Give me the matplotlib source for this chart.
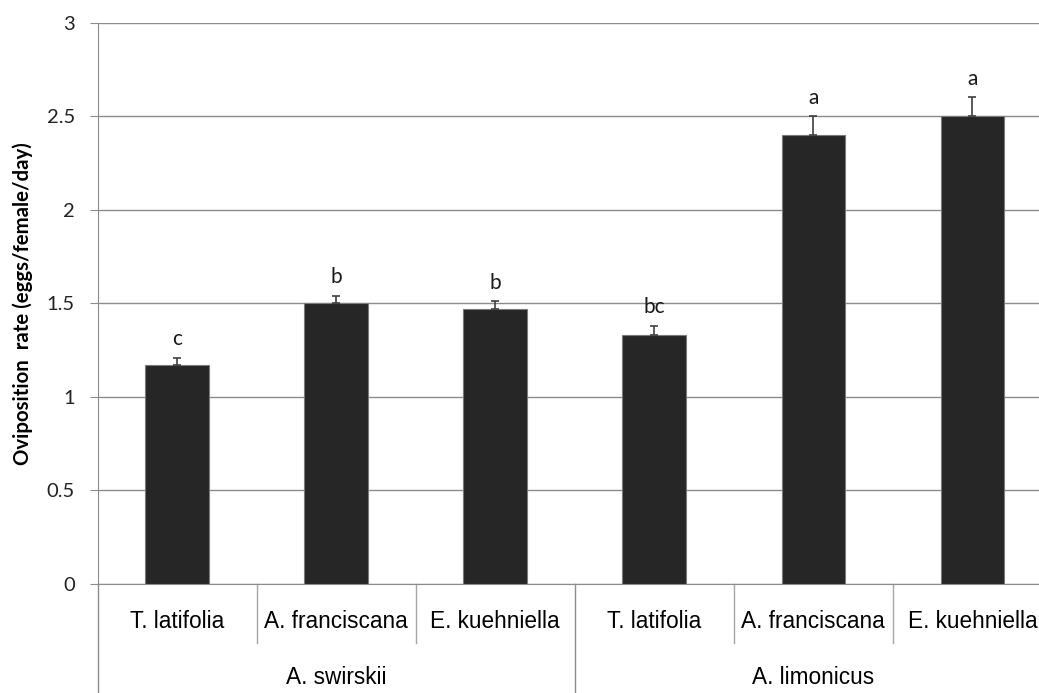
import matplotlib
matplotlib.use("Agg")
import matplotlib.pyplot as plt
import matplotlib.transforms as mtransforms

# Oviposition data: predator species x prey/food source
groups = ["A. swirskii", "A. limonicus"]
foods = ["T. latifolia", "A. franciscana", "E. kuehniella"]
rates = [1.17, 1.50, 1.47, 1.33, 2.40, 2.50]
errors = [0.04, 0.04, 0.04, 0.05, 0.10, 0.10]
letters = ["c", "b", "b", "bc", "a", "a"]
yticks = [0, 0.5, 1, 1.5, 2, 2.5, 3]
ytick_labels = ["0", "0.5", "1", "1.5", "2", "2.5", "3"]

W, H, DPI = 1039, 693, 100
fig = plt.figure(figsize=(W / DPI, H / DPI), dpi=DPI)
left_px, right_px, top_px, bottom_px = 97.5, 1052.0, 22.5, 584.0
ax = fig.add_axes([left_px / W, 1 - bottom_px / H,
                   (right_px - left_px) / W, (bottom_px - top_px) / H])

n_food = len(foods)
x = list(range(len(rates)))
grid_col = "#8c8c8c"
num_font = "Lato"
cat_font = "Liberation Sans"

ax.set_axisbelow(True)
ax.yaxis.grid(True, color=grid_col, linewidth=1.0)
ax.bar(x, rates, width=0.4, color="#262626", edgecolor="#7a7a7a", linewidth=0.8, zorder=3)
ax.errorbar(x, rates, yerr=[[0] * len(errors), errors], fmt="none",
            ecolor="#404040", elinewidth=1.2, capsize=2.6, capthick=1.2, zorder=4)

for xi, r, e, lab in zip(x, rates, errors, letters):
    ax.annotate(lab, xy=(xi, r + e), xytext=(0, 9), textcoords="offset points",
                ha="center", va="baseline", fontsize=15, family=num_font,
                color="#1a1a1a")

ax.set_xlim(-0.5, len(rates) - 0.5)
ax.set_ylim(0, 3)
ax.set_yticks(yticks)
ax.set_yticklabels(ytick_labels, fontsize=14.5, family=num_font)
ax.tick_params(axis="y", length=5.8, color=grid_col, pad=10.5, labelcolor="#222222")
ax.set_xticks([])
for s in ["top", "right"]:
    ax.spines[s].set_visible(False)
ax.spines["left"].set_color(grid_col)
ax.spines["bottom"].set_color(grid_col)

ax.set_ylabel("Oviposition  rate (eggs/female/day)", fontsize=14.7,
              fontweight="bold", family=num_font, labelpad=10)

# Two-level category axis
trans = mtransforms.blended_transform_factory(ax.transData, ax.transAxes)
span = bottom_px - top_px
cat_y = -(621.7 - bottom_px) / span
grp_y = -(678.0 - bottom_px) / span
sep_low = -(643.0 - bottom_px) / span
grp_low = -(700.0 - bottom_px) / span

for i, xi in enumerate(x):
    ax.text(xi, cat_y, foods[i % n_food], transform=trans, ha="center",
            va="center", fontsize=16.3, family=cat_font)
for g, name in enumerate(groups):
    center = g * n_food + (n_food - 1) / 2
    ax.text(center, grp_y, name, transform=trans, ha="center",
            va="center", fontsize=16.3, family=cat_font)
    for k in range(1, n_food):
        xs = g * n_food + k - 0.5
        ax.plot([xs, xs], [0, sep_low], transform=trans, color="#a6a6a6",
                linewidth=1.0, clip_on=False)
    xg = g * n_food - 0.5
    ax.plot([xg, xg], [0, grp_low], transform=trans, color=grid_col,
            linewidth=1.0, clip_on=False)
xe = len(rates) - 0.5
ax.plot([xe, xe], [0, grp_low], transform=trans, color=grid_col,
        linewidth=1.0, clip_on=False)

fig.savefig("out.png", dpi=DPI)
